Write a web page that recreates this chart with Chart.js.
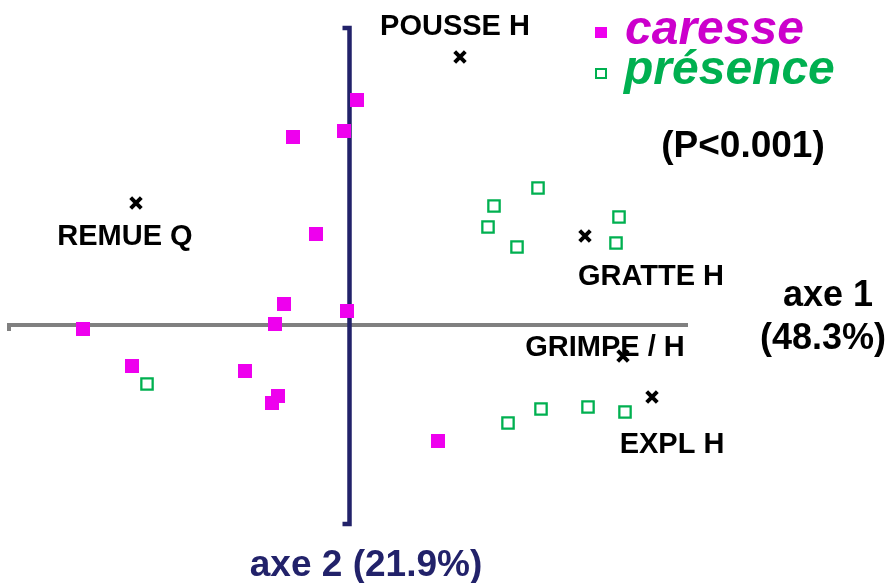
<!DOCTYPE html>
<html>
<head>
<meta charset="utf-8">
<script src="https://cdn.jsdelivr.net/npm/chart.js@4.4.1/dist/chart.umd.min.js"></script>
<style>
html,body{margin:0;padding:0;background:#fff;}
#wrap{width:891px;height:583px;position:relative;}
</style>
</head>
<body>
<div id="wrap"><canvas id="c" width="891" height="583"></canvas></div>
<script>
// ---- data (factor scores) ----
const caresseX = [-2.65,-2.16,-1.03,-0.70,-0.76,-0.73,-0.64,-0.01,0.09,-0.04,-0.55,-0.32,0.90];
const caresseY = [-0.04,-0.41,-0.46,-0.71,-0.78,0.01,0.21,0.14,2.25,1.94,1.88,0.91,-1.16];
const presenceX = [-2.01,1.90,1.46,1.40,1.69,2.71,2.68,1.60,1.93,2.40,2.77];
const presenceY = [-0.59,1.37,1.19,0.98,0.78,1.08,0.82,-0.98,-0.84,-0.82,-0.87];
const varNames = ["POUSSE H","REMUE Q","GRATTE H","GRIMPE / H","EXPL H"];
const varX = [1.12,-2.12,2.37,2.75,3.04];
const varY = [2.68,1.22,0.89,-0.31,-0.72];
const seriesNames = ["caresse","présence"];
const axis1Title = ["axe 1","(48.3%)"];
const axis2Title = "axe 2 (21.9%)";
const pValueText = "(P<0.001)";
// axis extents in data units
const axis1Range = [-3.39, 3.40];
const axis2Range = [-1.99, 2.97];
const axis2Pos = 0.015;

const toPts = (xs, ys) => xs.map((x,i)=>({x:x,y:ys[i]}));

const FONT = "'Liberation Sans', Arial, Helvetica, sans-serif";
const MAGENTA = "#ee00ee", MAGENTA_TXT = "#cc00cc", GREEN = "#00b050", NAVY = "#22226a", GREY = "#808080";

// label placement offsets in pixels relative to each variable marker (layout only)
const labelOffsets = [[-5,-22],[-11,42],[66,49],[-18,0],[20,56]];

const overlay = {
  id:'overlay',
  afterDatasetsDraw(chart){
    const ctx = chart.ctx, xs = chart.scales.x, ys = chart.scales.y;
    ctx.save();
    ctx.fillStyle = "#000";
    ctx.textAlign = "center";
    ctx.textBaseline = "alphabetic";
    ctx.font = "bold 29px " + FONT;
    varNames.forEach((n,i)=>{
      const px = xs.getPixelForValue(varX[i]) + labelOffsets[i][0];
      const py = ys.getPixelForValue(varY[i]) + labelOffsets[i][1];
      ctx.fillText(n, px, py);
    });
    // axis titles
    ctx.font = "bold 36px " + FONT;
    ctx.fillText(axis1Title[0], 828, 306);
    ctx.fillText(axis1Title[1], 823, 349);
    ctx.font = "bold 37px " + FONT;
    ctx.fillStyle = NAVY;
    ctx.fillText(axis2Title, 366, 576);
    // p value
    ctx.fillStyle = "#000";
    ctx.fillText(pValueText, 743, 157);
    // legend
    ctx.textAlign = "left";
    ctx.font = "italic bold 48px " + FONT;
    ctx.fillStyle = MAGENTA;
    ctx.fillRect(595, 27, 12, 11);
    ctx.fillStyle = MAGENTA_TXT;
    ctx.fillText(seriesNames[0], 625, 44);
    ctx.strokeStyle = GREEN; ctx.lineWidth = 2;
    ctx.strokeRect(596, 69, 10, 9);
    ctx.fillStyle = GREEN;
    ctx.fillText(seriesNames[1], 624, 84);
    ctx.restore();
  }
};

new Chart(document.getElementById('c'), {
  type:'scatter',
  data:{
    datasets:[
      {label:'axe1', type:'line', data:[{x:axis1Range[0],y:-0.06},{x:axis1Range[0],y:0},{x:axis1Range[1],y:0}],
       borderColor:GREY, borderWidth:4, pointRadius:0, fill:false, tension:0, order:5},
      {label:'axe2', type:'line', data:[{x:axis2Pos-0.07,y:axis2Range[1]},{x:axis2Pos,y:axis2Range[1]},{x:axis2Pos,y:axis2Range[0]},{x:axis2Pos-0.07,y:axis2Range[0]}],
       borderColor:NAVY, borderWidth:4.5, pointRadius:0, fill:false, tension:0, order:4},
      {label:seriesNames[0], data:toPts(caresseX, caresseY), pointStyle:'rect', pointRadius:9.9,
       backgroundColor:MAGENTA, borderColor:MAGENTA, borderWidth:0, order:2},
      {label:seriesNames[1], data:toPts(presenceX, presenceY), pointStyle:'rect', pointRadius:8,
       backgroundColor:'#ffffff', borderColor:GREEN, borderWidth:2.3, order:1},
      {label:'variables', data:toPts(varX, varY), pointStyle:'crossRot', pointRadius:7.5,
       borderColor:'#000', backgroundColor:'#000', borderWidth:4, order:0}
    ]
  },
  options:{
    responsive:false, animation:false,
    layout:{padding:0, autoPadding:false},
    scales:{
      x:{type:'linear', min:-3.48, max:5.43, display:false},
      y:{type:'linear', min:-2.58, max:3.25, display:false}
    },
    plugins:{legend:{display:false}, tooltip:{enabled:false}},
    elements:{line:{capBezierPoints:false}}
  },
  plugins:[overlay]
});
</script>
</body>
</html>
